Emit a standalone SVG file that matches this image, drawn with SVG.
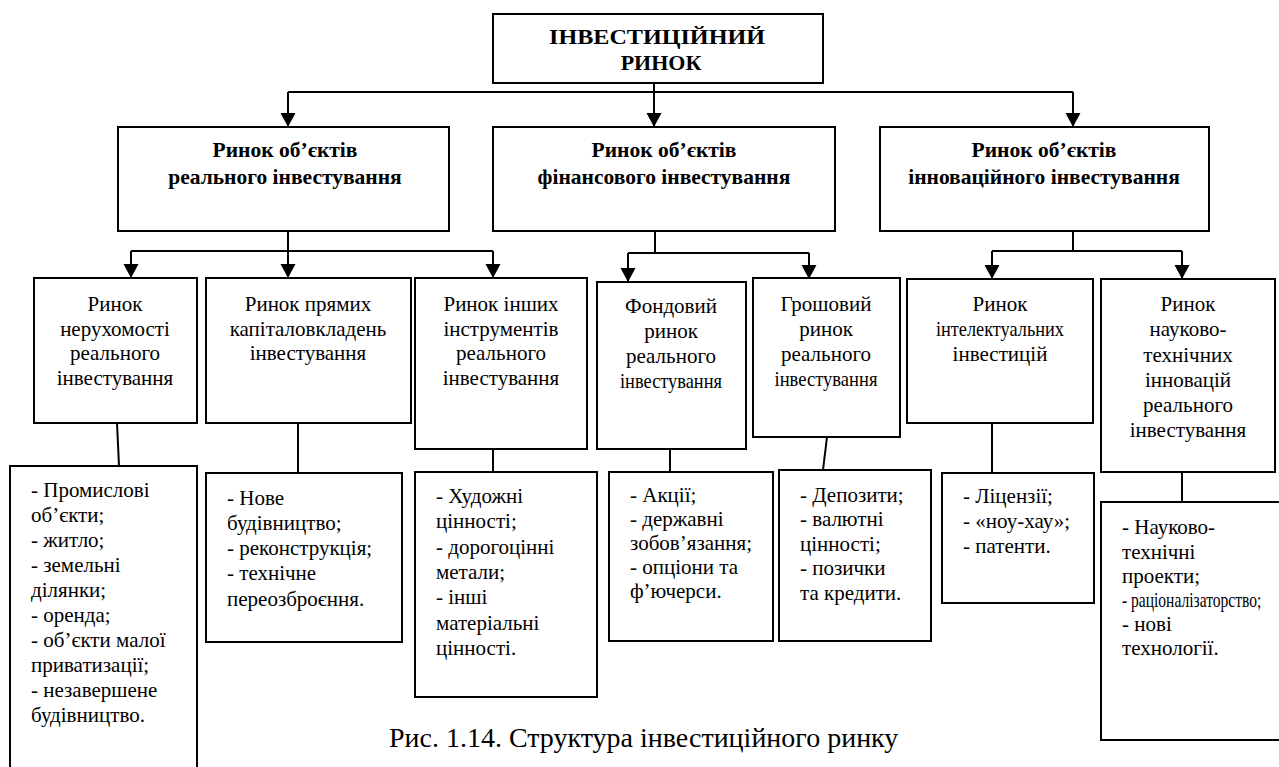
<svg xmlns="http://www.w3.org/2000/svg" width="1279" height="767" viewBox="0 0 1279 767">
<defs>
<marker id="arr" markerUnits="userSpaceOnUse" markerWidth="16" markerHeight="16" refX="14" refY="7.5" orient="auto">
<path d="M0,0 L14,7.5 L0,15 z" fill="#000"/>
</marker>
<style>
.box{fill:#fff;stroke:#000;stroke-width:2}
.ln{fill:none;stroke:#000;stroke-width:2}
.ar{fill:none;stroke:#000;stroke-width:2;marker-end:url(#arr)}
text{font-family:'Liberation Serif','Times New Roman',Tinos,'DejaVu Serif',serif;fill:#000}
.t{font-weight:bold;font-size:22px;text-anchor:middle}
.b{font-weight:bold;font-size:21.5px;text-anchor:middle}
.c{font-size:21px;text-anchor:middle}
.l{font-size:21px}
.cap{font-size:28px}
</style>
</defs>
<rect width="1279" height="767" fill="#fff"/>
<g id="connectors">
<path class="ln" d="M288,92 H1073"/>
<path class="ar" d="M654,83 V127"/>
<path class="ar" d="M288,92 V127"/>
<path class="ar" d="M1073,92 V127"/>
<path class="ln" d="M288,231 V251 M131,251 H493"/>
<path class="ar" d="M131,251 V278"/>
<path class="ar" d="M288,251 V278"/>
<path class="ar" d="M493,251 V278"/>
<path class="ln" d="M655,231 V253 M628,253 H809"/>
<path class="ar" d="M628,253 V282"/>
<path class="ar" d="M809,253 V279"/>
<path class="ln" d="M1073,231 V251 M992,251 H1182"/>
<path class="ar" d="M992,251 V279"/>
<path class="ar" d="M1182,251 V279"/>
<path class="ln" d="M117,423 L119,466"/>
<path class="ln" d="M298,423 V473"/>
<path class="ln" d="M493,449 V472"/>
<path class="ln" d="M670,449 V472"/>
<path class="ln" d="M827,437 L823,470"/>
<path class="ln" d="M992,423 V473"/>
<path class="ln" d="M1182,472 V502"/>
</g>
<g id="root">
<rect class="box" x="493" y="14" width="330" height="69"/>
<text class="t" x="657" y="44" textLength="216" lengthAdjust="spacingAndGlyphs">ІНВЕСТИЦІЙНИЙ</text>
<text class="t" x="661" y="70">РИНОК</text>
</g>
<g id="real">
<rect class="box" x="118" y="127" width="331" height="104"/>
<text class="b" x="285" y="157">Ринок об’єктів</text>
<text class="b" x="285" y="184">реального інвестування</text>
</g>
<g id="fin">
<rect class="box" x="493" y="127" width="342" height="104"/>
<text class="b" x="664" y="157">Ринок об’єктів</text>
<text class="b" x="664" y="184">фінансового інвестування</text>
</g>
<g id="innov">
<rect class="box" x="880" y="127" width="329" height="104"/>
<text class="b" x="1044" y="157">Ринок об’єктів</text>
<text class="b" x="1044" y="184">інноваційного інвестування</text>
</g>
<g id="m1">
<rect class="box" x="34" y="278" width="163" height="145"/>
<text class="c" x="115" y="311">Ринок</text>
<text class="c" x="115" y="336">нерухомості</text>
<text class="c" x="115" y="360">реального</text>
<text class="c" x="115" y="385">інвестування</text>
</g>
<g id="m2">
<rect class="box" x="206" y="278" width="205" height="145"/>
<text class="c" x="308" y="311">Ринок прямих</text>
<text class="c" x="308" y="336">капіталовкладень</text>
<text class="c" x="308" y="360">інвестування</text>
</g>
<g id="m3">
<rect class="box" x="415" y="278" width="172" height="171"/>
<text class="c" x="501" y="311">Ринок інших</text>
<text class="c" x="501" y="336">інструментів</text>
<text class="c" x="501" y="360">реального</text>
<text class="c" x="501" y="385">інвестування</text>
</g>
<g id="m4">
<rect class="box" x="597" y="282" width="149" height="167"/>
<text class="c" x="671" y="313">Фондовий</text>
<text class="c" x="671" y="338">ринок</text>
<text class="c" x="671" y="363">реального</text>
<text class="c" x="671" y="388" textLength="102" lengthAdjust="spacingAndGlyphs">інвестування</text>
</g>
<g id="m5">
<rect class="box" x="753" y="278" width="147" height="159"/>
<text class="c" x="826" y="311">Грошовий</text>
<text class="c" x="826" y="336">ринок</text>
<text class="c" x="826" y="361">реального</text>
<text class="c" x="826" y="386" textLength="103" lengthAdjust="spacingAndGlyphs">інвестування</text>
</g>
<g id="m6">
<rect class="box" x="907" y="279" width="186" height="144"/>
<text class="c" x="1000" y="311">Ринок</text>
<text class="c" x="1000" y="336" textLength="128" lengthAdjust="spacingAndGlyphs">інтелектуальних</text>
<text class="c" x="1000" y="361">інвестицій</text>
</g>
<g id="m7">
<rect class="box" x="1101" y="279" width="174" height="193"/>
<text class="c" x="1188" y="311">Ринок</text>
<text class="c" x="1188" y="336">науково-</text>
<text class="c" x="1188" y="362">технічних</text>
<text class="c" x="1188" y="387">інновацій</text>
<text class="c" x="1188" y="412">реального</text>
<text class="c" x="1188" y="437">інвестування</text>
</g>
<g id="d1">
<rect class="box" x="10" y="466" width="187" height="320"/>
<text class="l" x="31" y="497">- Промислові</text>
<text class="l" x="31" y="522">об’єкти;</text>
<text class="l" x="31" y="547">- житло;</text>
<text class="l" x="31" y="572">- земельні</text>
<text class="l" x="31" y="597">ділянки;</text>
<text class="l" x="31" y="622">- оренда;</text>
<text class="l" x="31" y="647">- об’єкти малої</text>
<text class="l" x="31" y="672">приватизації;</text>
<text class="l" x="31" y="697">- незавершене</text>
<text class="l" x="31" y="722">будівництво.</text>
</g>
<g id="d2">
<rect class="box" x="206" y="473" width="196" height="169"/>
<text class="l" x="227" y="505">- Нове</text>
<text class="l" x="227" y="530">будівництво;</text>
<text class="l" x="227" y="555">- реконструкція;</text>
<text class="l" x="227" y="580">- технічне</text>
<text class="l" x="227" y="606">переозброєння.</text>
</g>
<g id="d3">
<rect class="box" x="415" y="472" width="182" height="225"/>
<text class="l" x="436" y="503">- Художні</text>
<text class="l" x="436" y="528">цінності;</text>
<text class="l" x="436" y="554">- дорогоцінні</text>
<text class="l" x="436" y="579">метали;</text>
<text class="l" x="436" y="604">- інші</text>
<text class="l" x="436" y="630">матеріальні</text>
<text class="l" x="436" y="655">цінності.</text>
</g>
<g id="d4">
<rect class="box" x="609" y="472" width="164" height="169"/>
<text class="l" x="630" y="502">- Акції;</text>
<text class="l" x="630" y="526">- державні</text>
<text class="l" x="630" y="550">зобов’язання;</text>
<text class="l" x="630" y="574">- опціони та</text>
<text class="l" x="630" y="598">ф’ючерси.</text>
</g>
<g id="d5">
<rect class="box" x="779" y="470" width="152" height="171"/>
<text class="l" x="800" y="502">- Депозити;</text>
<text class="l" x="800" y="526">- валютні</text>
<text class="l" x="800" y="551">цінності;</text>
<text class="l" x="800" y="575">- позички</text>
<text class="l" x="800" y="600">та кредити.</text>
</g>
<g id="d7">
<rect class="box" x="1101" y="502" width="185" height="238"/>
<text class="l" x="1122" y="534">- Науково-</text>
<text class="l" x="1122" y="559">технічні</text>
<text class="l" x="1122" y="583">проекти;</text>
<text class="l" transform="matrix(0.74 0 0 1 1122 607)">- раціоналізаторство;</text>
<text class="l" x="1122" y="631">- нові</text>
<text class="l" x="1122" y="655">технології.</text>
</g>
<g id="d6">
<rect class="box" x="942" y="473" width="152" height="130"/>
<text class="l" x="963" y="503">- Ліцензії;</text>
<text class="l" x="963" y="528">- «ноу-хау»;</text>
<text class="l" x="963" y="553">- патенти.</text>
</g>
<g id="caption">
<text class="cap" x="389" y="747">Рис. 1.14. Структура інвестиційного ринку</text>
</g>
</svg>
